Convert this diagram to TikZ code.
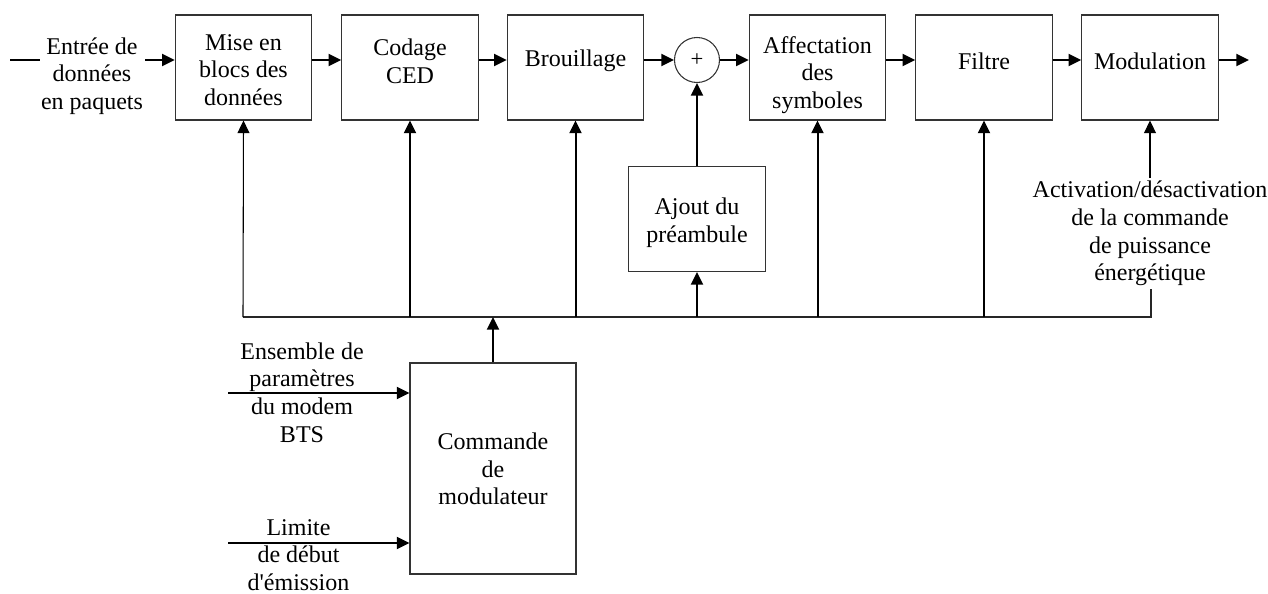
\documentclass[tikz,border=0pt]{standalone}
\usepackage{fontspec}
\setmainfont{Liberation Serif}
\usetikzlibrary{arrows.meta}
\begin{document}
\begin{tikzpicture}[x=0.75pt,y=-0.75pt,
  blk/.style={draw=black!80,line width=0.8pt,inner sep=0pt,
    minimum width=102.4pt,minimum height=78.75pt},
  txt/.style={inner sep=0pt,align=center,font=\fontsize{18}{20.7}\selectfont},
  lbl/.style={inner sep=2pt,align=center,font=\fontsize{18}{20.7}\selectfont},
  conn/.style={line width=1.5pt,-{Triangle[length=9.5pt,width=9pt]}},
  thinconn/.style={line width=0.8pt,-{Triangle[length=9.5pt,width=9pt]}},
  thickln/.style={line width=1.5pt},
  thinln/.style={line width=0.8pt,draw=black!85}]
\useasboundingbox (0,0) rectangle (1268,593);

% processing chain
\node[blk] (b1) at (243.5,67.5) {};
\node[txt] (t1) at (243.5,70) {Mise en\\blocs des\\données};
\node[blk] (b2) at (410,67.5) {};
\node[txt] (t2) at (410,61) {Codage\\CED};
\node[blk] (b3) at (575.5,67.5) {};
\node[txt] (t3) at (575.5,61) {Brouillage};
\node[circle,draw=black!80,line width=0.8pt,inner sep=0pt,minimum size=33.75pt,
  font=\fontsize{17}{17}\selectfont] (sum) at (697,60) {+};
\node[blk] (b4) at (817.5,67.5) {};
\node[txt] (t4) at (817.5,75) {Affectation\\des\\symboles};
\node[blk] (b5) at (984,67.5) {};
\node[txt] (t5) at (984,61) {Filtre};
\node[blk] (b6) at (1150,67.5) {};
\node[txt] (t6) at (1150,61) {Modulation};

% preamble insertion and modulator control
\node[blk] (aj) at (697,219) {};
\node[txt] (taj) at (697,223) {Ajout du\\préambule};
\node[blk,minimum width=124.5pt,minimum height=158.25pt] (cmd) at (493,468.5) {};
\node[txt] (tcmd) at (493,469) {Commande\\de\\modulateur};

% free labels
\node[txt] (inlbl) at (92,76) {Entrée de\\données\\en paquets};
\node[lbl] (act) at (1150,233.5) {Activation/désactivation\\de la commande\\de puissance\\énergétique};
\node[txt] (par) at (302,392.5) {Ensemble de\\paramètres\\du modem\\BTS};
\node[txt] (lim) at (298.5,555) {Limite\\de début\\d\textquotesingle émission};

% end points
\coordinate (inL) at (10,60);
\coordinate (inR) at (40,60);
\coordinate (inA) at (145,60);
\coordinate (out) at (1249,60);
\coordinate (busL) at (243,317);
\coordinate (busR) at (1151,317);
\coordinate (p1) at (228,393);
\coordinate (p2) at (228,543);

% main signal path
\draw[thickln] (inL) -- (inR);
\draw[conn] (inA) -- (b1.west |- sum);
\draw[conn] (b1.east |- sum) -- (b2.west |- sum);
\draw[conn] (b2.east |- sum) -- (b3.west |- sum);
\draw[conn] (b3.east |- sum) -- (sum.west);
\draw[conn] (sum.east) -- (b4.west |- sum);
\draw[conn] (b4.east |- sum) -- (b5.west |- sum);
\draw[conn] (b5.east |- sum) -- (b6.west |- sum);
\draw[conn] (b6.east |- sum) -- (out);

% control bus
\draw[thinln] (busL) -- (busR) -- (busR |- act.south);
\draw[thinconn] (act.north -| b6.south) -- (b6.south);
\draw[thinconn] (busL) -- (b1.south);
\draw[conn] (b2.south |- busL) -- (b2.south);
\draw[conn] (b3.south |- busL) -- (b3.south);
\draw[conn] (aj.south |- busL) -- (aj.south);
\draw[conn] (aj.north) -- (sum.south);
\draw[conn] (b4.south |- busL) -- (b4.south);
\draw[conn] (b5.south |- busL) -- (b5.south);
\draw[conn] (cmd.north) -- (cmd.north |- busL);

% modulator control inputs
\draw[conn] (p1) -- (p1 -| cmd.west);
\draw[conn] (p2) -- (p2 -| cmd.west);
\end{tikzpicture}
\end{document}
